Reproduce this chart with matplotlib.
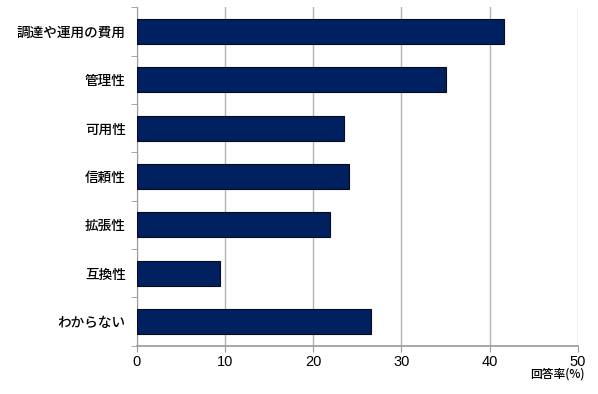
import matplotlib.pyplot as plt
import numpy as np

plt.rcParams['font.family'] = ['Noto Sans CJK JP', 'DejaVu Sans']

# データ（上から順に）
categories = ["調達や運用の費用", "管理性", "可用性", "信頼性", "拡張性", "互換性", "わからない"]
values = [41.6, 35.1, 23.5, 24.1, 21.9, 9.4, 26.5]
xticks = [0, 10, 20, 30, 40, 50]

fig = plt.figure(figsize=(5.98, 3.94), dpi=100)
ax = fig.add_axes([0.229, 0.123, 0.737, 0.858])

y = np.arange(len(categories))
ax.barh(y, values, height=0.52, color="#002060", edgecolor="#0a0a1a", linewidth=0.8, zorder=3)

ax.set_ylim(len(categories) - 0.5, -0.5)
ax.set_xlim(0, 50)
ax.set_xticks(xticks)
ax.set_xticklabels([str(v) for v in xticks], family=["Liberation Sans", "DejaVu Sans"], fontsize=10.5)
ax.set_yticks(y)
ax.set_yticklabels(categories, fontsize=9.8, weight="medium")
ax.set_yticks(np.arange(-0.5, len(categories), 1), minor=True)
ax.tick_params(axis="y", which="major", length=0, pad=8)
ax.tick_params(axis="y", which="minor", length=4, color="#999999")
ax.tick_params(axis="x", length=4, color="#999999", pad=3)

ax.grid(axis="x", color="#b3b3b3", linewidth=1, zorder=0)
for s in ["top", "right"]:
    ax.spines[s].set_visible(False)
ax.spines["left"].set_color("#999999")
ax.spines["bottom"].set_color("#999999")
ax.spines["bottom"].set_linewidth(1.2)

fig.text(0.977, 0.033, "回答率(%)", ha="right", va="bottom", fontsize=8.5, weight="medium")

fig.savefig("out.png", dpi=100)
